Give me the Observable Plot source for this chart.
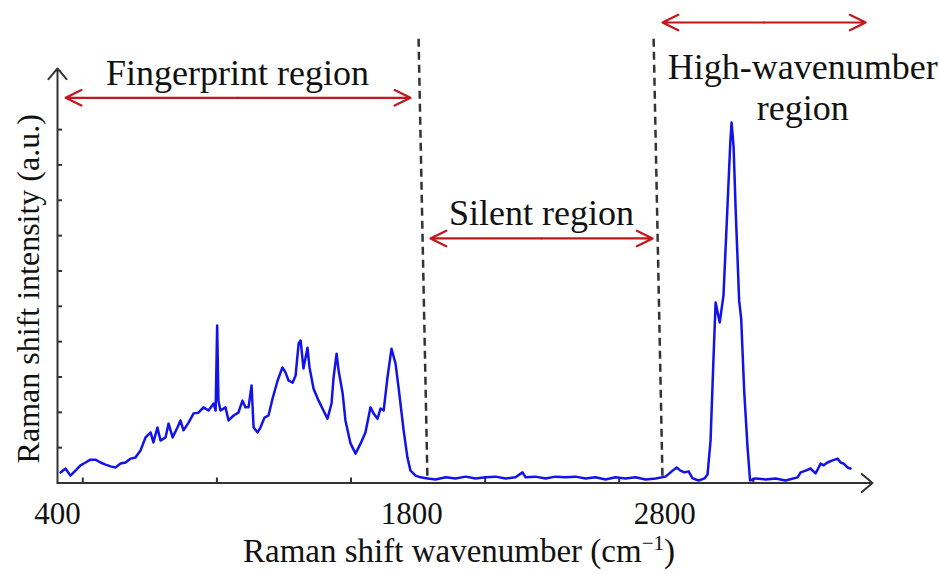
<!DOCTYPE html>
<html><head><meta charset="utf-8">
<script src="https://cdn.jsdelivr.net/npm/d3@7"></script>
<script src="https://cdn.jsdelivr.net/npm/@observablehq/plot@0.6"></script>
<style>body{margin:0;background:#fff}#chart{width:939px;height:574px}</style>
</head><body><div id="chart"></div>
<script>
// ---- data ----
const wavenumber = [412,432,451,471,491,511,530,550,570,590,610,629,649,669,689,708,728,748,768,779,795,807,827,839,855,874,886,898,918,938,957,977,997,1017,1025,1031,1036,1044,1064,1076,1096,1115,1131,1143,1155,1167,1175,1191,1202,1218,1234,1250,1270,1289,1301,1313,1329,1341,1353,1361,1372,1388,1396,1412,1432,1451,1467,1483,1491,1503,1511,1527,1538,1558,1578,1598,1617,1637,1649,1665,1677,1689,1704,1720,1736,1748,1768,1783,1795,1815,1835,1863,
  1894,1934,1973,2013,2052,2092,2131,2171,2210,2238,2250,2289,2329,2368,2408,2447,2487,2526,2566,2605,2645,2684,2724,2764,2803,2831,2847,2862,2878,2894,2910,2934,2957,2969,2981,2993,3001,3017,3032,3048,3059,3064,3072,3080,3094,3102,3114,3127,3137,3159,3198,3238,3277,3325,3337,3357,3376,3396,3416,3428,3443,3463,3483,3495,3507,3522,3534];
const intensity = [0.30,0.41,0.21,0.35,0.50,0.58,0.66,0.66,0.58,0.52,0.47,0.44,0.55,0.58,0.69,0.72,0.92,1.29,1.43,1.15,1.57,1.20,1.29,1.68,1.29,1.57,1.77,1.49,1.71,1.97,1.99,2.14,2.05,2.25,2.05,4.46,2.33,2.05,2.14,1.77,1.91,1.99,2.33,2.14,2.14,2.76,1.57,1.43,1.57,1.85,1.91,2.39,2.90,3.27,3.13,2.90,2.84,3.04,3.95,4.03,3.24,3.83,3.27,2.67,2.33,2.05,1.82,2.25,2.98,3.66,3.18,2.53,1.77,1.12,0.83,1.12,1.43,2.14,1.97,1.82,2.11,2.05,2.98,3.80,3.38,2.70,1.49,0.72,0.35,0.21,0.16,0.13,
  0.10,0.16,0.13,0.18,0.13,0.16,0.18,0.13,0.16,0.30,0.16,0.18,0.13,0.18,0.16,0.18,0.13,0.16,0.10,0.16,0.13,0.16,0.10,0.13,0.18,0.35,0.44,0.35,0.30,0.33,0.13,0.07,0.13,0.24,1.20,3.61,5.11,4.54,5.30,7.85,9.63,10.20,9.52,7.77,5.16,4.65,2.59,1.03,0.07,0.13,0.10,0.13,0.07,0.16,0.30,0.35,0.41,0.27,0.55,0.50,0.58,0.64,0.69,0.58,0.55,0.44,0.41];
const xTickLabels = [400, 1800, 2800];
const xMinorTicks = [500, 1030, 1560, 2090, 2620, 3150];
const yTicks = [1, 2, 3, 4, 5, 6, 7, 8, 9, 10];
const regionNames = ["Fingerprint region", "Silent region", "High-wavenumber\nregion"];
const regionFrom = [432, 1874, 2791];
const regionTo = [1795, 2752, 3594];
const regionLabelX = [1111, 2313, 3345];
const boundaryTop = [1827, 2756];
const boundaryBottom = [1862, 2791];
const xTitle = "Raman shift wavenumber (cm\u22121)";
const yTitle = "Raman shift intensity (a.u.)";

// ---- layout ----
const L = {
  xDomain: [400, 3621], yDomain: [0, 13.37], yArrowTop: 11.73,
  arrowY: [10.9, 6.92, 13.03], labelY: [11.64, 7.68, 11.23],
  dashTop: 12.57, dashBottom: 0.13
};
const red = "#c4161c", ink = "#111", axisInk = "#333";
const spectrum = wavenumber.map((w, i) => ({w, v: intensity[i]}));
const idx = d3.range(regionNames.length);
const mid = i => (regionFrom[i] + regionTo[i]) / 2;
const serif = "'Liberation Serif', 'Times New Roman', serif";

const chart = Plot.plot({
  width: 939, height: 574,
  marginLeft: 57, marginRight: 67, marginTop: 10, marginBottom: 91.5,
  x: {domain: L.xDomain, axis: null, label: null},
  y: {domain: L.yDomain, axis: null, label: null},
  style: {fontFamily: serif, background: "#fff", color: ink},
  marks: [
    // axes with arrow heads
    Plot.arrow([0], {x1: L.xDomain[0], y1: 0, x2: L.xDomain[0], y2: L.yArrowTop, stroke: axisInk, strokeWidth: 2, headLength: 10.5, headAngle: 80}),
    Plot.arrow([0], {x1: L.xDomain[0], y1: 0, x2: L.xDomain[1], y2: 0, stroke: axisInk, strokeWidth: 2, headLength: 10.5, headAngle: 80}),
    Plot.axisY(yTicks, {tickSize: 5, dx: 5, tickFormat: () => "", label: null, stroke: axisInk, strokeWidth: 2}),
    Plot.axisX(xMinorTicks, {tickSize: 5, dy: -5, tickFormat: () => "", label: null, stroke: axisInk, strokeWidth: 2}),
    Plot.axisX(xTickLabels, {tickSize: 0, fontSize: 31, dy: 10, label: null, tickFormat: d => String(d), fill: ink}),
    // region boundaries
    Plot.link(d3.range(boundaryTop.length), {x1: i => boundaryTop[i], y1: L.dashTop, x2: i => boundaryBottom[i], y2: L.dashBottom, stroke: axisInk, strokeWidth: 2.5, strokeDasharray: "8,5"}),
    // spectrum
    Plot.line(spectrum, {x: "w", y: "v", stroke: "#1212ea", strokeWidth: 2.5, strokeLinejoin: "round"}),
    // region double arrows
    Plot.arrow(idx, {x1: mid, y1: i => L.arrowY[i], x2: i => regionFrom[i], y2: i => L.arrowY[i], stroke: red, strokeWidth: 2.2, headLength: 12, headAngle: 52}),
    Plot.arrow(idx, {x1: mid, y1: i => L.arrowY[i], x2: i => regionTo[i], y2: i => L.arrowY[i], stroke: red, strokeWidth: 2.2, headLength: 12, headAngle: 52}),
    Plot.text(idx, {x: i => regionLabelX[i], y: i => L.labelY[i], text: i => regionNames[i], fontSize: 36, lineHeight: 1.15, lineAnchor: "middle", textAnchor: "middle", fill: ink}),
    // axis titles
    Plot.text([xTitle], {text: d => d, frameAnchor: "bottom", dx: -6, dy: 68, lineAnchor: "middle", fontSize: 33, fill: ink}),
    Plot.text([yTitle], {text: d => d, frameAnchor: "left", dx: -29, dy: 42, rotate: -90, lineAnchor: "middle", textAnchor: "middle", fontSize: 32, fill: ink})
  ]
});
document.getElementById("chart").append(chart);

// superscript for cm^-1
chart.querySelectorAll("text").forEach(t => {
  if (t.textContent === xTitle) {
    t.textContent = "";
    const ns = "http://www.w3.org/2000/svg";
    const a = document.createElementNS(ns, "tspan"); a.textContent = "Raman shift wavenumber (cm";
    const b = document.createElementNS(ns, "tspan"); b.textContent = "\u22121"; b.setAttribute("dy", "-12"); b.setAttribute("font-size", "21");
    const c = document.createElementNS(ns, "tspan"); c.textContent = ")"; c.setAttribute("dy", "12");
    t.append(a, b, c);
  }
});
</script></body></html>
